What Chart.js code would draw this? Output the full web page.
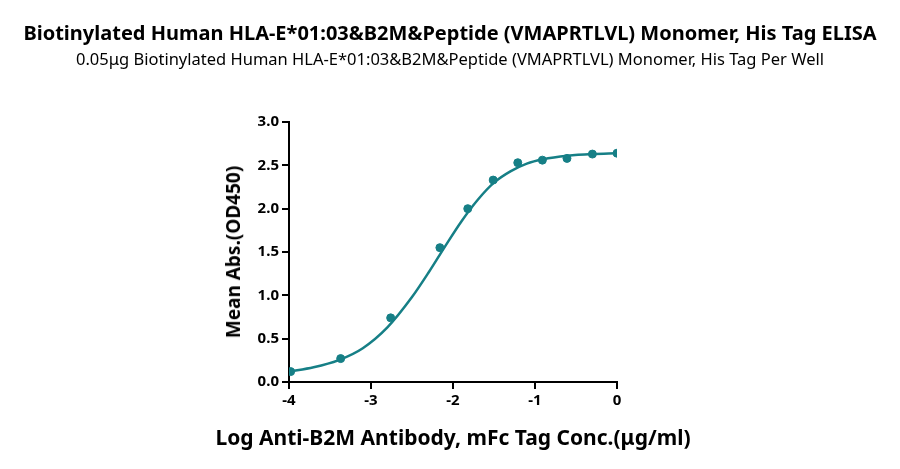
<!DOCTYPE html>
<html>
<head>
<meta charset="utf-8">
<script src="https://cdn.jsdelivr.net/npm/chart.js@4/dist/chart.umd.min.js"></script>
<style>
  body { margin: 0; background: #fff; font-family: "Noto Sans", sans-serif; }
  #wrap { position: relative; width: 900px; height: 469px; }
  .t1 { position: absolute; top: 19px; width: 900px; text-align: center; font-weight: bold; font-size: 20px; color: #000; }
  .t2 { position: absolute; top: 47px; width: 900px; text-align: center; font-size: 16.5px; color: #000; }
  .xt { position: absolute; top: 423px; left: 0; width: 906px; text-align: center; font-weight: bold; font-size: 21px; color: #000; }
  .yt { position: absolute; left: 233px; top: 252px; transform: translate(-50%, -50%) rotate(-90deg); white-space: nowrap; font-weight: bold; font-size: 19px; color: #000; }
  canvas { position: absolute; left: 0; top: 0; }
</style>
</head>
<body>
<div id="wrap">
  <canvas id="elisaChart" width="900" height="469"></canvas>
  <div class="t1">Biotinylated Human HLA-E*01:03&amp;B2M&amp;Peptide (VMAPRTLVL) Monomer, His Tag ELISA</div>
  <div class="t2">0.05μg Biotinylated Human HLA-E*01:03&amp;B2M&amp;Peptide (VMAPRTLVL) Monomer, His Tag Per Well</div>
  <div class="xt">Log Anti-B2M Antibody, mFc Tag Conc.(μg/ml)</div>
  <div class="yt">Mean Abs.(OD450)</div>
</div>
<script>
// measured points (log conc, OD450)
const logConc = [-3.98, -3.37, -2.76, -2.16, -1.82, -1.51, -1.21, -0.91, -0.61, -0.3, 0];
const meanAbs = [0.12, 0.27, 0.74, 1.55, 2.0, 2.33, 2.53, 2.56, 2.58, 2.63, 2.64];

// fitted curve
const fitX = [-4, -3.7, -3.4, -3.1, -2.8, -2.5, -2.3, -2.1, -1.9, -1.7, -1.5, -1.3, -1.1, -0.9, -0.6, -0.3, 0];
const fitY = [0.12, 0.17, 0.25, 0.39, 0.63, 0.98, 1.26, 1.56, 1.85, 2.10, 2.30, 2.43, 2.52, 2.57, 2.61, 2.63, 2.64];

const teal = '#167f86';
const tickFont = { family: 'Noto Sans', size: 15, weight: 'bold' };

new Chart(document.getElementById('elisaChart').getContext('2d'), {
    type: 'scatter',
    data: {
        datasets: [{
            data: logConc.map((x, i) => ({ x: x, y: meanAbs[i] })),
            backgroundColor: teal,
            borderColor: teal,
            pointRadius: 4,
            showLine: false
        }, {
            data: fitX.map((x, i) => ({ x: x, y: fitY[i] })),
            borderColor: teal,
            borderWidth: 2.5,
            pointRadius: 0,
            showLine: true,
            cubicInterpolationMode: 'monotone'
        }]
    },
    options: {
        responsive: false,
        animation: false,
        layout: { padding: { top: 122, right: 283, left: 0, bottom: 0 } },
        plugins: { legend: { display: false }, tooltip: { enabled: false } },
        scales: {
            x: {
                min: -4, max: 0,
                afterFit: s => { s.height = 87; },
                border: { color: '#000', width: 2 },
                grid: { drawOnChartArea: false, color: '#000', tickLength: 7, lineWidth: 2 },
                ticks: { stepSize: 1, color: '#000', font: tickFont }
            },
            y: {
                min: 0, max: 3,
                afterFit: s => { s.width = 289; },
                border: { color: '#000', width: 2 },
                grid: { drawOnChartArea: false, color: '#000', tickLength: 7, lineWidth: 2 },
                ticks: { stepSize: 0.5, color: '#000', font: tickFont, callback: v => v.toFixed(1) }
            }
        }
    }
});
</script>
</body>
</html>
